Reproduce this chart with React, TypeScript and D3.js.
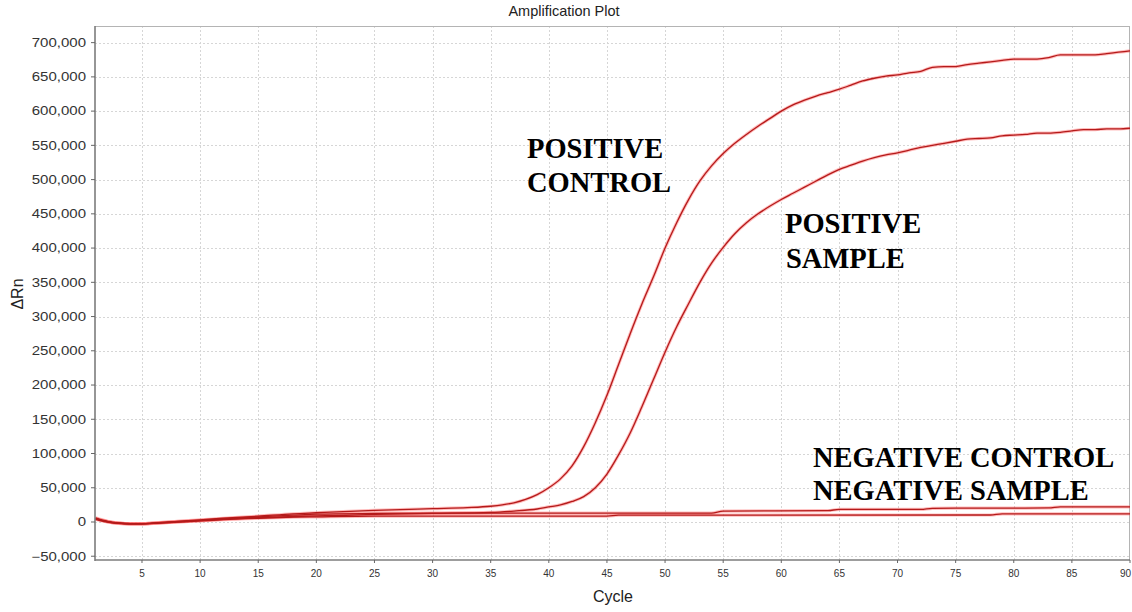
import React from 'react';
import * as d3 from 'd3';

// Amplification plot: delta Rn per cycle for four wells
const posControlCycles = [1, 2, 3, 4, 5, 6, 8, 10, 12, 15, 18, 20, 25, 30, 33, 35, 36, 37, 38, 39, 40, 41, 42, 43, 44, 45, 46, 47, 48, 49, 50, 51, 52, 53, 54, 55, 56, 57, 58, 59, 60, 61, 62, 63, 64, 65, 66, 67, 68, 69, 70, 71, 72, 73, 74, 75, 76, 77, 78, 79, 80, 81, 82, 83, 84, 85, 86, 87, 88, 89, 90];
const posControlValues = [6000, 1000, -1500, -2500, -2500, -1500, 1000, 3000, 5500, 8500, 12000, 13500, 17000, 19500, 21000, 23000, 25000, 28000, 33000, 40000, 50000, 63000, 82000, 110000, 145000, 185000, 230000, 275000, 318000, 358000, 400000, 437000, 470000, 498000, 520000, 538000, 553000, 566000, 578000, 589000, 600000, 609000, 616000, 622000, 627000, 632000, 638000, 644000, 648000, 651000, 653000, 656000, 658000, 664000, 665000, 665000, 668000, 670000, 672000, 674000, 676000, 676000, 676000, 678000, 682000, 682000, 682000, 682000, 684000, 686000, 688000];

const posSampleCycles = [1, 2, 3, 4, 5, 6, 8, 10, 12, 15, 18, 20, 22, 25, 30, 35, 37, 39, 40, 41, 42, 43, 44, 45, 46, 47, 48, 49, 50, 51, 52, 53, 54, 55, 56, 57, 58, 59, 60, 61, 62, 63, 64, 65, 66, 67, 68, 69, 70, 71, 72, 73, 74, 75, 76, 77, 78, 79, 80, 81, 82, 83, 84, 85, 86, 87, 88, 89, 90];
const posSampleValues = [5000, 500, -2000, -2500, -2500, -2000, 0, 2000, 4000, 6500, 8000, 9000, 9500, 11000, 12500, 14000, 16000, 19000, 22000, 25000, 30000, 37000, 50000, 70000, 98000, 130000, 168000, 208000, 248000, 285000, 318000, 350000, 378000, 401000, 421000, 437000, 450000, 461000, 471000, 480000, 489000, 498000, 507000, 515000, 521000, 527000, 532000, 536000, 539000, 543000, 547000, 550000, 553000, 556000, 559000, 560000, 561000, 564000, 565000, 566000, 568000, 568000, 569000, 571000, 573000, 573000, 574000, 574000, 575000];

const negControlCycles = [1, 2, 3, 4, 5, 6, 8, 10, 12, 15, 18, 20, 25, 30, 54, 55, 64, 65, 72, 73, 83, 84, 90];
const negControlValues = [5000, 1000, -1500, -2500, -2500, -1500, 500, 2500, 4500, 7500, 10000, 11500, 12500, 13000, 13000, 16000, 16500, 18500, 18500, 20000, 20500, 22000, 22000];

const negSampleCycles = [1, 2, 3, 4, 5, 6, 8, 10, 12, 15, 18, 20, 25, 45, 46, 78, 79, 90];
const negSampleValues = [4000, 0, -2000, -3000, -3000, -2000, 0, 1500, 3500, 5500, 7000, 7500, 8500, 8700, 10000, 10200, 12000, 12000];

const xTicks = [5, 10, 15, 20, 25, 30, 35, 40, 45, 50, 55, 60, 65, 70, 75, 80, 85, 90];
const yTicks = [-50000, 0, 50000, 100000, 150000, 200000, 250000, 300000, 350000, 400000, 450000, 500000, 550000, 600000, 650000, 700000];

const W = 1132;
const H = 612;
const left = 95;
const right = 1130;
const top = 26;
const bottom = 560;

const sans = '"Liberation Sans", Arial, sans-serif';
const serif = '"Liberation Serif", "Times New Roman", serif';

export default function App() {
  const x = d3.scaleLinear().domain([1, 90]).range([left + 0.5, right]);
  const y = d3.scaleLinear().domain([-55500, 724300]).range([bottom, top]);

  const line = d3
    .line<[number, number]>()
    .x(d => x(d[0]))
    .y(d => y(d[1]))
    .curve(d3.curveMonotoneX);

  const series = [
    { cycles: negSampleCycles, values: negSampleValues },
    { cycles: negControlCycles, values: negControlValues },
    { cycles: posSampleCycles, values: posSampleValues },
    { cycles: posControlCycles, values: posControlValues },
  ].map(s => line(s.cycles.map((c, i) => [c, s.values[i]] as [number, number])) || '');

  const fmt = d3.format(',');

  return (
    <svg
      width={W}
      height={H}
      style={{ position: 'fixed', left: 0, top: 0, background: '#fff' }}
    >
      <rect x={0} y={0} width={W} height={H} fill="#fff" />

      <text x={564} y={15.5} textAnchor="middle" fontFamily={sans} fontSize={14.5} fill="#222">
        Amplification Plot
      </text>

      {/* grid */}
      <g stroke="#d6d6d6" strokeWidth={1} strokeDasharray="2,2">
        {yTicks.map(t => (
          <line key={'gy' + t} x1={left} x2={right} y1={Math.round(y(t)) + 0.5} y2={Math.round(y(t)) + 0.5} />
        ))}
        {xTicks.filter(t => t < 90).map(t => (
          <line key={'gx' + t} x1={Math.round(x(t)) + 0.5} x2={Math.round(x(t)) + 0.5} y1={top} y2={bottom} />
        ))}
      </g>

      {/* frame */}
      <line x1={left} x2={right} y1={top + 0.5} y2={top + 0.5} stroke="#b4b4b4" />
      <line x1={right - 0.5} x2={right - 0.5} y1={top} y2={bottom} stroke="#b4b4b4" />

      {/* curves */}
      <g fill="none" strokeLinejoin="round">
        {series.map((d, i) => (
          <path key={'h' + i} d={d} stroke="#ff6a6a" strokeOpacity={0.45} strokeWidth={3.2} />
        ))}
        {series.map((d, i) => (
          <path key={'l' + i} d={d} stroke="#b51a1a" strokeWidth={1.3} />
        ))}
      </g>

      {/* axes */}
      <line x1={left} x2={left} y1={top} y2={bottom + 1} stroke="#7c7c7c" strokeWidth={1.6} />
      <line x1={left} x2={right} y1={bottom} y2={bottom} stroke="#7c7c7c" strokeWidth={1.6} />

      {yTicks.map(t => (
        <g key={'yt' + t}>
          <line x1={left - 4} x2={left} y1={y(t)} y2={y(t)} stroke="#666" />
          <text
            transform={`translate(86,${y(t)}) scale(1.25,1)`}
            dy="0.36em"
            textAnchor="end"
            fontFamily={sans}
            fontSize={12}
            fill="#333"
          >
            {fmt(t)}
          </text>
        </g>
      ))}

      {xTicks.map(t => (
        <g key={'xt' + t}>
          <line x1={x(t)} x2={x(t)} y1={bottom} y2={bottom + 3} stroke="#666" />
          <text
            x={t === 90 ? W - 1 : x(t)}
            y={576.5}
            textAnchor={t === 90 ? 'end' : 'middle'}
            fontFamily={sans}
            fontSize={10}
            fill="#333"
          >
            {t}
          </text>
        </g>
      ))}

      <text x={613} y={601.5} textAnchor="middle" fontFamily={sans} fontSize={16} fill="#222">
        Cycle
      </text>
      <text transform="translate(23,294) rotate(-90)" textAnchor="middle" fontFamily={sans} fontSize={16} fill="#222">
        ΔRn
      </text>

      {/* curve labels */}
      <g fontFamily={serif} fontWeight="bold" fontSize={28.5} fill="#000">
        <text x={527} y={158}>POSITIVE</text>
        <text x={527} y={192}>CONTROL</text>
        <text x={785} y={233}>POSITIVE</text>
        <text x={786} y={268}>SAMPLE</text>
        <text x={813} y={467}>NEGATIVE CONTROL</text>
        <text x={813} y={500}>NEGATIVE SAMPLE</text>
      </g>
    </svg>
  );
}
